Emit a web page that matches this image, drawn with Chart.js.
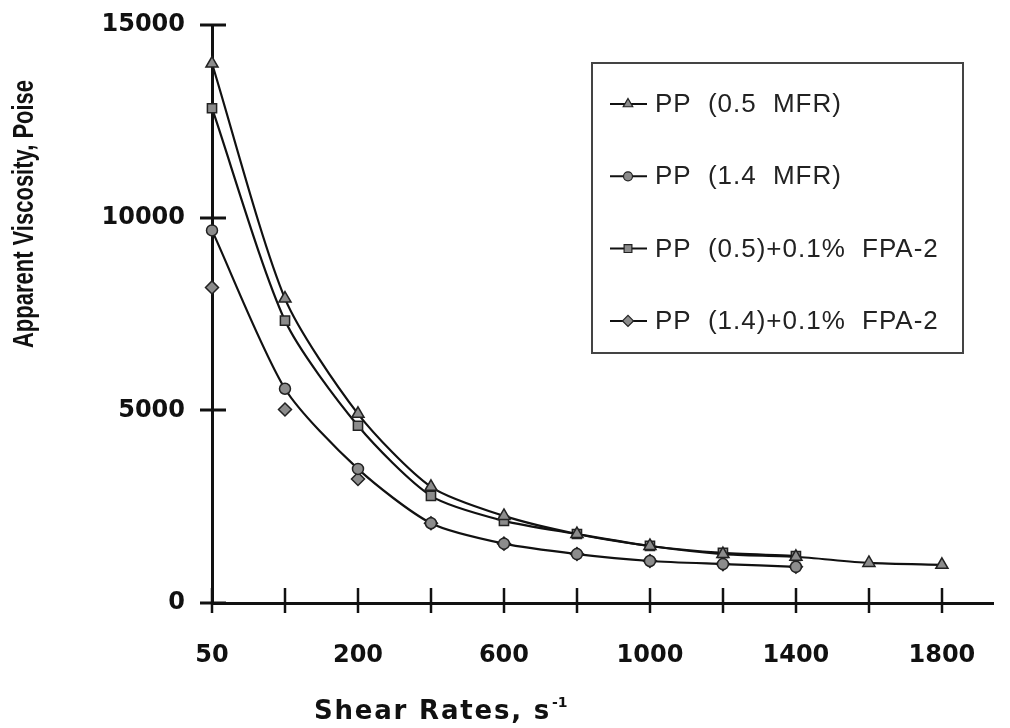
<!DOCTYPE html>
<html><head><meta charset="utf-8">
<script src="https://cdn.jsdelivr.net/npm/chart.js@4.4.0/dist/chart.umd.min.js"></script>
<style>html,body{margin:0;padding:0;background:#fff}#wrap{width:1010px;height:728px;position:relative}</style>
</head><body><div id="wrap"><canvas id="c" width="1010" height="728"></canvas></div>
<script>
// ---- data ----
const shearRates = ['50','100','200','400','600','800','1000','1200','1400','1600','1800'];
const shownTickLabels = ['50','200','600','1000','1400','1800'];
const yTickValues = [0, 5000, 10000, 15000];
const pp05 = [14000, 7900, 4910, 3015, 2260, 1790, 1480, 1270, 1200, 1040, 990];
const pp14 = [9670, 5560, 3480, 2070, 1540, 1270, 1090, 1010, 940];
const pp05fpa = [12840, 7330, 4600, 2780, 2130, 1790, 1480, 1300, 1220];
const pp14fpa = [8190, 5020, 3220, 2070, 1540, 1270, 1090, 1010, 940];
const seriesLabels = ['PP (0.5 MFR)', 'PP (1.4 MFR)', 'PP (0.5)+0.1% FPA-2', 'PP (1.4)+0.1% FPA-2'];
const xTitle = 'Shear Rates, s';
const xTitleSup = '-1';
const yTitle = 'Apparent Viscosity, Poise';

const toPts = arr => arr.map((v, i) => ({x: i, y: v}));

const axisDecor = {
  id: 'axisDecor',
  beforeDatasetsDraw(chart) {
    const {ctx, scales: {x, y}} = chart;
    ctx.save();
    ctx.strokeStyle = '#111';
    ctx.lineWidth = 2.5;
    const yb = y.getPixelForValue(0), xl = x.getPixelForValue(0);
    shearRates.forEach((_, i) => {
      const px = Math.round(x.getPixelForValue(i));
      ctx.beginPath(); ctx.moveTo(px, yb - 15); ctx.lineTo(px, yb + 10); ctx.stroke();
    });
    ctx.lineWidth = 3;
    yTickValues.forEach(v => {
      const py = Math.round(y.getPixelForValue(v));
      ctx.beginPath(); ctx.moveTo(xl - 12, py); ctx.lineTo(xl + 14, py); ctx.stroke();
    });
    ctx.restore();
  },
  afterDraw(chart) {
    const {ctx} = chart;
    ctx.save();
    // x title with superscript
    ctx.fillStyle = '#111';
    ctx.font = 'bold 26px "DejaVu Sans"';
    ctx.letterSpacing = '1.8px';
    ctx.textBaseline = 'alphabetic';
    ctx.textAlign = 'left';
    const tx = 314, ty = 719;
    ctx.fillText(xTitle, tx, ty);
    const w = ctx.measureText(xTitle).width;
    ctx.font = 'bold 14px "DejaVu Sans"';
    ctx.letterSpacing = '0px';
    ctx.fillText(xTitleSup, tx + w + 1, ty - 12);
    // y title rotated
    ctx.save();
    ctx.translate(25, 214);
    ctx.rotate(-Math.PI / 2);
    ctx.scale(1, 1.3);
    ctx.font = 'bold 22px "Liberation Sans"';
    ctx.textAlign = 'center';
    ctx.textBaseline = 'middle';
    ctx.fillText(yTitle, 0, 0);
    ctx.restore();
    // legend
    ctx.strokeStyle = '#444';
    ctx.lineWidth = 2;
    ctx.strokeRect(592, 63, 371, 290);
    chart.data.datasets.forEach((ds, i) => {
      const cy = 104 + i * 72.3;
      ctx.strokeStyle = '#111';
      ctx.lineWidth = 2;
      ctx.beginPath(); ctx.moveTo(610, cy); ctx.lineTo(647, cy); ctx.stroke();
      ctx.fillStyle = '#8c8c8c';
      ctx.strokeStyle = '#222';
      ctx.lineWidth = 1.2;
      Chart.helpers.drawPoint(ctx, {pointStyle: ds.pointStyle, radius: ds.pointStyle === 'circle' ? 4.5 : 5.5, rotation: 0, borderWidth: 1.2}, 628, cy);
      ctx.fillStyle = '#222';
      ctx.font = '26px "Liberation Sans"';
      ctx.letterSpacing = '1px';
      ctx.wordSpacing = '8px';
      ctx.textAlign = 'left';
      ctx.textBaseline = 'middle';
      ctx.fillText(ds.label, 655, cy + 1);
    });
    ctx.restore();
  }
};

const common = {borderColor: '#111', borderWidth: 2.2, pointBackgroundColor: '#8c8c8c', pointBorderColor: '#222', pointBorderWidth: 1.5, clip: false, tension: 0.25};

new Chart(document.getElementById('c'), {
  type: 'line',
  data: {
    datasets: [
      Object.assign({label: seriesLabels[0], data: toPts(pp05), pointStyle: 'triangle', pointRadius: 7}, common),
      Object.assign({label: seriesLabels[1], data: toPts(pp14), pointStyle: 'circle', pointRadius: 5.5}, common),
      Object.assign({label: seriesLabels[2], data: toPts(pp05fpa), pointStyle: 'rect', pointRadius: 6.5}, common),
      Object.assign({label: seriesLabels[3], data: toPts(pp14fpa), pointStyle: 'rectRot', pointRadius: 6.5, showLine: false}, common)
    ]
  },
  options: {
    responsive: false,
    animation: false,
    devicePixelRatio: 1,
    layout: {padding: {left: 0, right: 17, top: 25, bottom: 0}},
    plugins: {legend: {display: false}, tooltip: {enabled: false}},
    scales: {
      x: {
        type: 'linear', min: 0, max: 10.7,
        afterBuildTicks: s => { s.ticks = shearRates.map((_, i) => ({value: i})); },
        grid: {display: false, drawTicks: false},
        border: {display: true, color: '#111', width: 3},
        ticks: {
          padding: 38, color: '#111', maxRotation: 0, autoSkip: false,
          font: {family: 'DejaVu Sans', weight: 'bold', size: 24},
          callback: v => shownTickLabels.includes(shearRates[v]) ? shearRates[v] : ''
        },
        afterFit: s => { s.height = 125; s.paddingLeft = 0; s.paddingRight = 0; }
      },
      y: {
        min: 0, max: 15000,
        afterBuildTicks: s => { s.ticks = yTickValues.map(v => ({value: v})); },
        grid: {display: false, drawTicks: false},
        border: {display: true, color: '#111', width: 3},
        ticks: {
          padding: 27, color: '#111',
          font: {family: 'DejaVu Sans', weight: 'bold', size: 24},
          callback: v => String(v)
        },
        afterFit: s => { s.width = 212; s.paddingTop = 0; s.paddingBottom = 0; }
      }
    }
  },
  plugins: [axisDecor]
});
</script>
</body></html>
